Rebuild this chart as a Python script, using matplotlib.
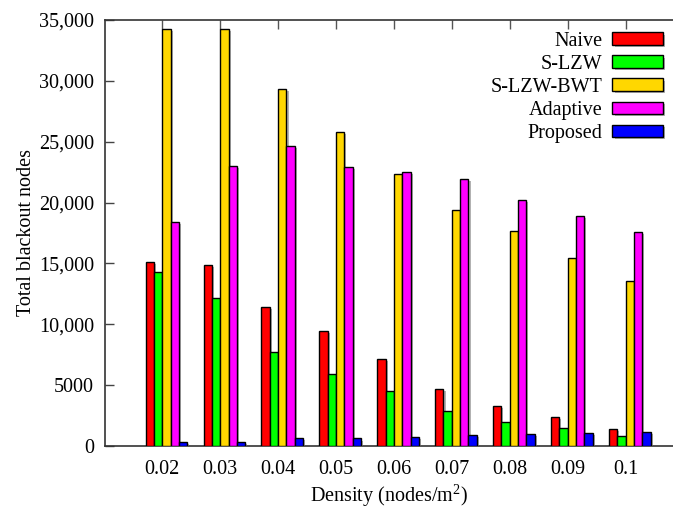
import numpy as np
import matplotlib.pyplot as plt
import matplotlib.patheffects as pe

plt.rcParams["font.family"] = "Liberation Serif"
plt.rcParams["mathtext.fontset"] = "custom"
plt.rcParams["mathtext.rm"] = "Liberation Serif"
plt.rcParams["mathtext.it"] = "Liberation Serif:italic"
plt.rcParams["mathtext.default"] = "rm"

densities = ["0.02", "0.03", "0.04", "0.05", "0.06", "0.07", "0.08", "0.09", "0.1"]
naive = [15150, 14870, 11390, 9450, 7150, 4660, 3260, 2360, 1370]
slzw = [14300, 12190, 7700, 5920, 4520, 2880, 1950, 1450, 800]
slzw_bwt = [34290, 34290, 29310, 25780, 22350, 19370, 17670, 15470, 13580]
adaptive = [18430, 23030, 24650, 22900, 22490, 21970, 20190, 18900, 17560]
proposed = [300, 350, 630, 620, 710, 880, 960, 1070, 1130]

series = [
    ("Naive", naive, "#ff0000"),
    ("S-LZW", slzw, "#00ff00"),
    ("S-LZW-BWT", slzw_bwt, "#ffd700"),
    ("Adaptive", adaptive, "#ff00ff"),
    ("Proposed", proposed, "#0000ff"),
]

yticks = [0, 5000, 10000, 15000, 20000, 25000, 30000, 35000]
ytick_labels = ["0", "5000", "10,000", "15,000", "20,000", "25,000", "30,000", "35,000"]

fs = 14.5

fig = plt.figure(figsize=(6.73, 5.09), dpi=100)
ax = fig.add_axes([105 / 673, 1 - 446 / 509, 1 - 105 / 673, (446 - 20) / 509])

x = np.arange(len(densities))
w = 0.144
shadow = [pe.SimplePatchShadow(offset=(1.5, -1.5), shadow_rgbFace="gray", alpha=0.6), pe.Normal()]
for j, (name, vals, col) in enumerate(series):
    bars = ax.bar(x + (j - 1.5) * w, vals, width=w, color=col, edgecolor="black",
                  linewidth=1, label=name, zorder=3)
    for b in bars:
        b.set_path_effects(shadow)

ax.set_xlim(-0.99, 8.82)
ax.set_ylim(0, 35000)
ax.set_xticks(x)
ax.set_xticklabels(densities)
ax.set_yticks(yticks)
ax.set_yticklabels(ytick_labels)

ax.tick_params(axis="x", top=True, bottom=False, labelbottom=True, direction="in",
               length=6.5, width=1, color="#555555", labelsize=fs, pad=10)
ax.tick_params(axis="y", left=True, right=False, direction="in", length=6.5,
               width=1, color="#444444", labelsize=fs, pad=8)
ax.spines["right"].set_visible(False)
for s in ["top", "left", "bottom"]:
    ax.spines[s].set_color("#333333")
    ax.spines[s].set_linewidth(1.2)

ax.set_ylabel("Total blackout nodes", fontsize=fs, labelpad=2)
ax.set_xlabel("Density (nodes/m$^2$)", fontsize=fs, labelpad=3)

leg = ax.legend(loc="upper right", bbox_to_anchor=(0.982, 0.972), frameon=False,
                markerfirst=False, fontsize=fs, handlelength=2.5, handleheight=0.6,
                labelspacing=0.2, borderpad=0, borderaxespad=0, handletextpad=0.5)
for t in leg.get_texts():
    t.set_ha("right")

fig.savefig("out.png", dpi=100)
